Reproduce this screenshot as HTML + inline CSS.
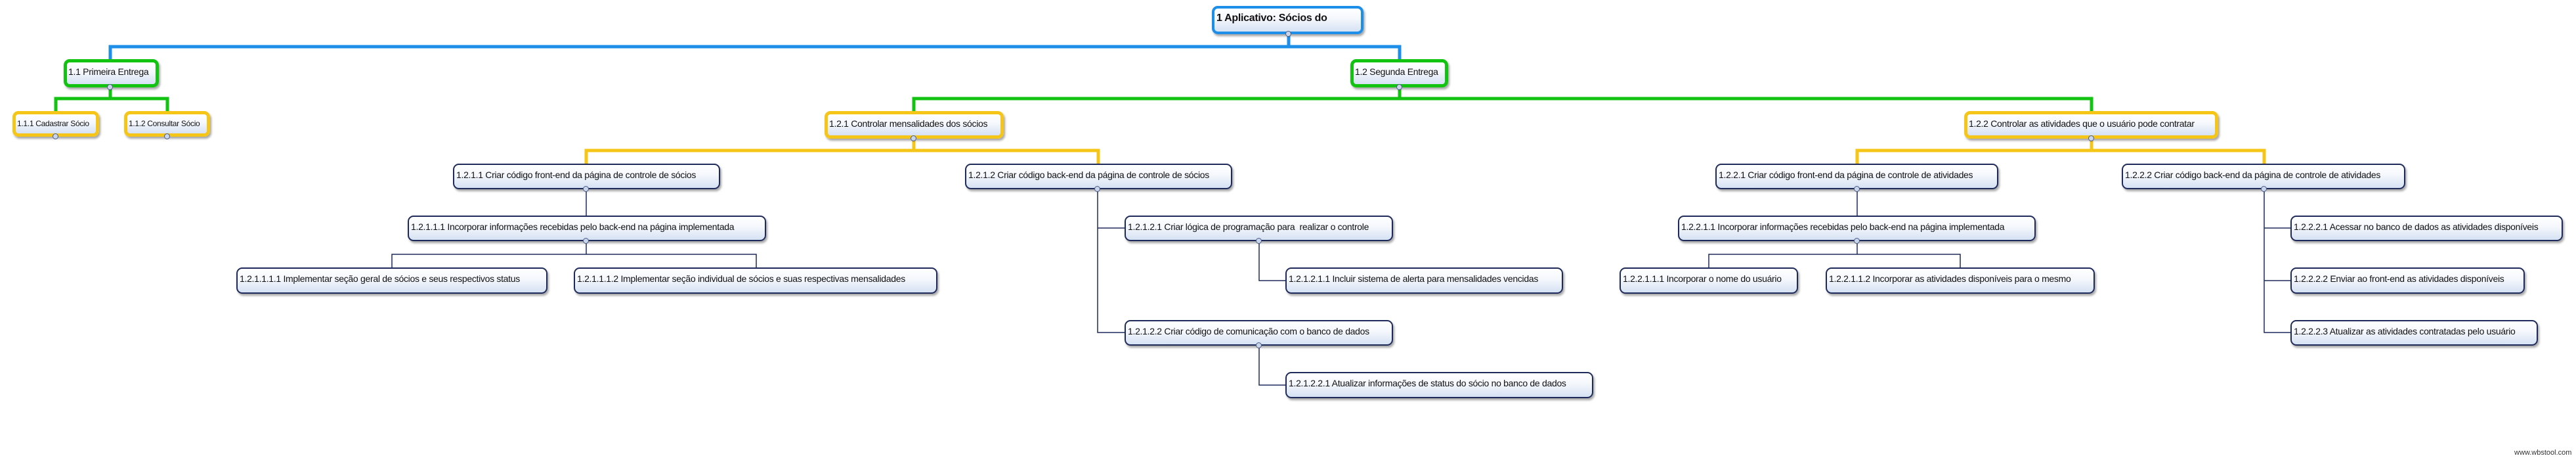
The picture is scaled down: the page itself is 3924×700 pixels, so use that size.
<!DOCTYPE html>
<html><head><meta charset="utf-8"><style>
body{margin:0;width:3924px;height:700px;background:#fff;position:relative;overflow:hidden;font-family:"Liberation Sans",sans-serif;}
.b{position:absolute;box-sizing:border-box;border:2px solid #1e2a5a;border-radius:9px;background:linear-gradient(#ffffff 0%,#f4f7fc 45%,#d5e1f3 100%);box-shadow:2px 3px 3px rgba(0,0,0,.35);font-size:14px;color:#111;padding:7px 4px 0 3px;white-space:nowrap;letter-spacing:-0.3px}
.g{border:5px solid #12c312;padding:6px 3px 0 2px}
.y{border:5px solid #f5c518;padding:6px 3px 0 2px}
.bl{border:4px solid #1e8fe8}
.c{position:absolute;width:9px;height:9px;border-radius:50%;background:#c9d5ea;border:1.5px solid #4a5a86;box-sizing:border-box}
svg{position:absolute;left:0;top:0}
</style></head><body>
<svg width="3924" height="700">
<g fill="none" stroke-linejoin="miter">
<polyline points="168,90 168,71 2132,71 2132,90" stroke="#1e8fe8" stroke-width="5"/>
<line x1="1963" y1="52" x2="1963" y2="71" stroke="#1e8fe8" stroke-width="5"/>
<polyline points="85,169 85,150 255,150 255,169" stroke="#12c312" stroke-width="5"/>
<line x1="168" y1="133" x2="168" y2="150" stroke="#12c312" stroke-width="5"/>
<polyline points="1392,169 1392,150 3186,150 3186,169" stroke="#12c312" stroke-width="5"/>
<line x1="2132" y1="133" x2="2132" y2="150" stroke="#12c312" stroke-width="5"/>
<polyline points="893,249 893,229 1673,229 1673,249" stroke="#f5c518" stroke-width="5"/>
<line x1="1392" y1="211" x2="1392" y2="229" stroke="#f5c518" stroke-width="5"/>
<polyline points="2829,249 2829,229 3449,229 3449,249" stroke="#f5c518" stroke-width="5"/>
<line x1="3186" y1="211" x2="3186" y2="229" stroke="#f5c518" stroke-width="5"/>
<g stroke="#1e2a5a" stroke-width="1.5">
<line x1="893" y1="288" x2="893" y2="328"/>
<polyline points="597,407 597,387 1152,387 1152,407"/><line x1="893" y1="367" x2="893" y2="387"/>
<polyline points="1672,288 1672,506 1713,506"/><line x1="1672" y1="347" x2="1713" y2="347"/>
<polyline points="1918,367 1918,427 1958,427"/>
<polyline points="1918,526 1918,586 1958,586"/>
<line x1="2829" y1="288" x2="2829" y2="328"/>
<polyline points="2603,407 2603,387 2986,387 2986,407"/><line x1="2829" y1="367" x2="2829" y2="387"/>
<polyline points="3449,288 3449,506 3489,506"/><line x1="3449" y1="347" x2="3489" y2="347"/><line x1="3449" y1="427" x2="3489" y2="427"/>
</g></g></svg>

<div class="b bl" style="left:1846px;top:9px;width:231px;height:43px;font-size:16px;font-weight:bold;padding-top:6px">1 Aplicativo: Sócios do</div>
<div class="b g" style="left:97px;top:90px;width:145px;height:43px">1.1 Primeira Entrega</div>
<div class="b y" style="left:19px;top:169px;width:132px;height:39px;font-size:12px;padding-top:7px">1.1.1 Cadastrar Sócio</div>
<div class="b y" style="left:189px;top:169px;width:131px;height:39px;font-size:12px;padding-top:7px">1.1.2 Consultar Sócio</div>
<div class="b g" style="left:2057px;top:90px;width:149px;height:43px">1.2 Segunda Entrega</div>
<div class="b y" style="left:1256px;top:169px;width:273px;height:42px">1.2.1 Controlar mensalidades dos sócios</div>
<div class="b y" style="left:2992px;top:169px;width:387px;height:42px">1.2.2 Controlar as atividades que o usuário pode contratar</div>
<div class="b" style="left:690px;top:249px;width:407px;height:39px">1.2.1.1 Criar código front-end da página de controle de sócios</div>
<div class="b" style="left:621px;top:328px;width:546px;height:39px">1.2.1.1.1 Incorporar informações recebidas pelo back-end na página implementada</div>
<div class="b" style="left:360px;top:407px;width:474px;height:40px">1.2.1.1.1.1 Implementar seção geral de sócios e seus respectivos status</div>
<div class="b" style="left:874px;top:407px;width:554px;height:40px">1.2.1.1.1.2 Implementar seção individual de sócios e suas respectivas mensalidades</div>
<div class="b" style="left:1470px;top:249px;width:407px;height:39px">1.2.1.2 Criar código back-end da página de controle de sócios</div>
<div class="b" style="left:1713px;top:328px;width:409px;height:39px">1.2.1.2.1 Criar lógica de programação para &nbsp;realizar o controle</div>
<div class="b" style="left:1958px;top:407px;width:423px;height:40px">1.2.1.2.1.1 Incluir sistema de alerta para mensalidades vencidas</div>
<div class="b" style="left:1713px;top:487px;width:409px;height:39px">1.2.1.2.2 Criar código de comunicação com o banco de dados</div>
<div class="b" style="left:1958px;top:566px;width:469px;height:40px">1.2.1.2.2.1 Atualizar informações de status do sócio no banco de dados</div>
<div class="b" style="left:2613px;top:249px;width:431px;height:39px">1.2.2.1 Criar código front-end da página de controle de atividades</div>
<div class="b" style="left:2556px;top:328px;width:545px;height:39px">1.2.2.1.1 Incorporar informações recebidas pelo back-end na página implementada</div>
<div class="b" style="left:2467px;top:407px;width:272px;height:40px">1.2.2.1.1.1 Incorporar o nome do usuário</div>
<div class="b" style="left:2781px;top:407px;width:410px;height:40px">1.2.2.1.1.2 Incorporar as atividades disponíveis para o mesmo</div>
<div class="b" style="left:3232px;top:249px;width:432px;height:39px">1.2.2.2 Criar código back-end da página de controle de atividades</div>
<div class="b" style="left:3489px;top:328px;width:415px;height:39px">1.2.2.2.1 Acessar no banco de dados as atividades disponíveis</div>
<div class="b" style="left:3489px;top:407px;width:357px;height:40px">1.2.2.2.2 Enviar ao front-end as atividades disponíveis</div>
<div class="b" style="left:3489px;top:487px;width:377px;height:39px">1.2.2.2.3 Atualizar as atividades contratadas pelo usuário</div>

<div class="c" style="left:1958px;top:47px"></div>
<div class="c" style="left:163px;top:128px"></div>
<div class="c" style="left:2127px;top:128px"></div>
<div class="c" style="left:80px;top:203px"></div>
<div class="c" style="left:250px;top:203px"></div>
<div class="c" style="left:1387px;top:206px"></div>
<div class="c" style="left:3181px;top:206px"></div>
<div class="c" style="left:888px;top:283px"></div>
<div class="c" style="left:888px;top:362px"></div>
<div class="c" style="left:1667px;top:283px"></div>
<div class="c" style="left:1913px;top:362px"></div>
<div class="c" style="left:1913px;top:521px"></div>
<div class="c" style="left:2824px;top:283px"></div>
<div class="c" style="left:2824px;top:362px"></div>
<div class="c" style="left:3444px;top:283px"></div>

<div style="position:absolute;left:3830px;top:683px;font-size:11px;color:#333">www.wbstool.com</div>
</body></html>
